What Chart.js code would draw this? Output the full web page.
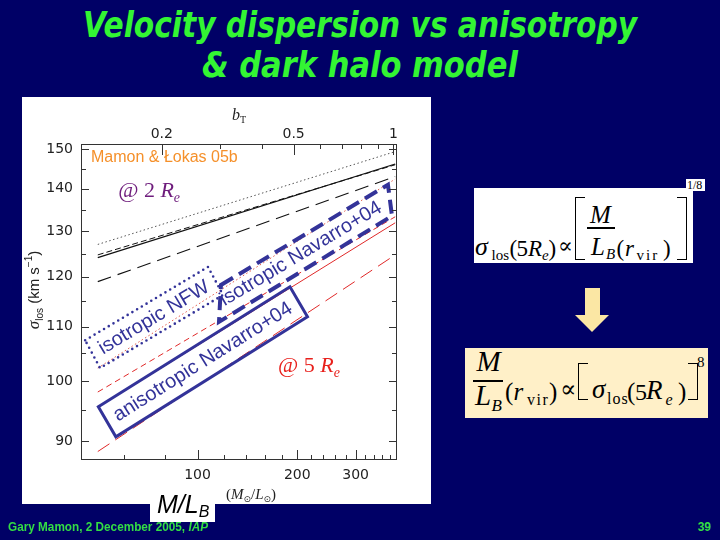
<!DOCTYPE html>
<html>
<head>
<meta charset="utf-8">
<title>Velocity dispersion vs anisotropy</title>
<script src="https://cdn.jsdelivr.net/npm/chart.js@4.4.0/dist/chart.umd.min.js"></script>
<style>
  html, body { margin: 0; padding: 0; }
  body { width: 720px; height: 540px; background: #000066; position: relative; overflow: hidden; font-family: "Liberation Sans", Arial, sans-serif; }
  .title { position: absolute; left: 0; width: 720px; text-align: center; color: #33f533; font-family: "DejaVu Sans Condensed", "DejaVu Sans", sans-serif; font-weight: bold; font-style: italic; font-size: 35px; line-height: 40px; white-space: nowrap; }
  .title span { display: inline-block; transform-origin: center; }
  #t1 { top: 5px; }
  #t2 { top: 45px; }
  #fig { position: absolute; left: 22px; top: 97px; width: 409px; height: 407px; background: #fff; }
  #fig canvas { position: absolute; left: 0; top: 0; }
  #mlb { position: absolute; left: 150px; top: 490px; width: 65px; height: 32px; background: #fff; }
  #mlb span { position: absolute; left: 7px; top: 0px; font-style: italic; font-size: 25px; line-height: 28px; color: #000; }
  #mlb sub { font-size: 16px; vertical-align: -4px; }
  .formula { position: absolute; }
  .formula .pc { position: absolute; white-space: pre; font-family: "Liberation Serif", "DejaVu Serif", serif; color: #000; }
  .formula .rule { position: absolute; background: #000; }
  .formula .br { position: absolute; box-sizing: border-box; border: 1.8px solid #000; }
  #f1 { left: 474px; top: 188px; width: 219px; height: 75px; background: #fff; }
  #f1 .pc.sup { background: #fff; padding: 0 3px 0 1px; margin-left: -1px; }
  #f2 { left: 465px; top: 348px; width: 243px; height: 70px; background: #fff0c8; }
  #arrow { position: absolute; left: 575px; top: 288px; width: 34px; height: 44px; background: #fbe7a4;
           clip-path: polygon(10px 0, 25px 0, 25px 27px, 34px 27px, 17px 44px, 0 27px, 10px 27px); }
  .foot { position: absolute; top: 520px; color: #33dd44; font-family: "Liberation Sans Narrow", "Liberation Sans", sans-serif; font-weight: bold; font-size: 12px; line-height: 14px; white-space: nowrap; }
  #foot { left: 8px; transform-origin: left center; }
  #page { right: 9px; }
</style>
</head>
<body>
<div class="title" id="t1"><span data-w="554">Velocity dispersion vs anisotropy</span></div>
<div class="title" id="t2"><span data-w="316">&amp; dark halo model</span></div>

<div id="fig"><canvas id="chart" width="408" height="406"></canvas></div>
<div id="mlb"><span>M/L<sub>B</sub></span></div>

<div id="f1" class="formula"></div>
<div id="arrow"></div>
<div id="f2" class="formula"></div>

<div class="foot" id="foot">Gary Mamon, 2 December 2005, <i>IAP</i></div>
<div class="foot" id="page">39</div>

<script>
// M/L_B (solar units) at the two ends of every model curve
const ML_RANGE = [50, 395];

// sigma_los (km/s) at 2 R_e, black curves
const SIGMA_2RE_DOTTED = [127.0, 149.4];
const SIGMA_2RE_SHORTDASH = [124.7, 146.0];
const SIGMA_2RE_SOLID = [124.1, 146.2];
const SIGMA_2RE_LONGDASH = [119.0, 143.0];

// sigma_los (km/s) at 5 R_e, red curves
const SIGMA_5RE_DOTTED = [102.3, 142.4];
const SIGMA_5RE_SHORTDASH = [98.1, 133.3];
const SIGMA_5RE_SOLID = [95.5, 131.9];
const SIGMA_5RE_LONGDASH = [88.4, 124.7];

// axes
const X_MIN = 44.5, X_MAX = 400;
const Y_MIN = 87.1, Y_MAX = 151.4;
const BT_SCALE = 390;   // b_T = (M/L) / 390
const ML_TICKS = [60, 80, 100, 120, 140, 160, 180, 200, 220, 240, 260, 280, 300, 320, 340, 360, 380];
const ML_LABELS = [100, 200, 300];
const BT_TICKS = [0.2, 0.3, 0.4, 0.5, 0.6, 0.7, 0.8, 0.9, 1];
const BT_LABELS = [0.2, 0.5, 1];
const SIG_TICKS = [90, 95, 100, 105, 110, 115, 120, 125, 130, 135, 140, 145, 150];
const SIG_LABELS = [90, 100, 110, 120, 130, 140, 150];

const BLUE = '#333399';
const RED = '#e02828';

// annotation boxes, corners in (M/L, sigma)
const boxes = [
  { label: 'isotropic NFW', ml: [45.8, 107.6, 119.4, 50.8], sig: [107.4, 122.1, 116.25, 102.3],
    center: [73.9, 111.7], dash: [0, 5.5], width: 2.6 },
  { label: 'isotropic Navarro+04', ml: [117.7, 375.6, 386.3, 116.1], sig: [118.3, 141.0, 133.5, 110.9],
    center: [205.2, 124.9], dash: [14, 7], width: 4 },
  { label: 'anisotropic Navarro+04', ml: [50.2, 190.1, 214.7, 56.7], sig: [95.6, 117.94, 111.9, 90.7],
    center: [103.8, 103.4], dash: [], width: 3 }
];

const notes = [
  { at: [47.7, 146.7], color: '#f5902a', segs: [{ t: 'Mamon & Łokas 05b', f: '16px "Liberation Sans"' }] },
  { at: [57.6, 138.0], color: '#6e1c7c', segs: [
    { t: '@ 2 ', f: '22px "Liberation Serif"' }, { t: 'R', f: 'italic 22px "Liberation Serif"' },
    { t: 'e', f: 'italic 14px "Liberation Serif"', dy: 5 }] },
  { at: [174.9, 101.6], color: '#e8201c', segs: [
    { t: '@ 5 ', f: '22px "Liberation Serif"' }, { t: 'R', f: 'italic 22px "Liberation Serif"' },
    { t: 'e', f: 'italic 14px "Liberation Serif"', dy: 5 }] }
];

function pts(ys) {
  return ML_RANGE.map((x, i) => ({ x: x, y: ys[i] }));
}

function drawRich(ctx, x, y, segs, align) {
  let w = 0;
  segs.forEach(s => { ctx.font = s.f; w += ctx.measureText(s.t).width; });
  let cx = align === 'center' ? x - w / 2 : x;
  ctx.textAlign = 'left';
  ctx.textBaseline = 'alphabetic';
  segs.forEach(s => {
    ctx.font = s.f;
    ctx.fillText(s.t, cx, y + (s.dy || 0));
    cx += ctx.measureText(s.t).width;
  });
}

function seg(ctx, x1, y1, x2, y2) {
  ctx.beginPath();
  ctx.moveTo(x1, y1);
  ctx.lineTo(x2, y2);
  ctx.stroke();
}

const decorations = {
  id: 'decorations',
  afterDatasetsDraw(chart) {
    const { ctx, chartArea: a, scales } = chart;
    const px = v => scales.x.getPixelForValue(v);
    const py = v => scales.y.getPixelForValue(v);

    // boxes with their labels
    ctx.save();
    ctx.beginPath();
    ctx.rect(a.left, a.top, a.right - a.left, a.bottom - a.top);
    ctx.clip();
    boxes.forEach(b => {
      const xs = b.ml.map(px), ys = b.sig.map(py);
      ctx.strokeStyle = BLUE;
      ctx.lineWidth = b.width;
      ctx.setLineDash(b.dash);
      ctx.lineCap = b.dash.length && b.dash[0] === 0 ? 'round' : 'butt';
      ctx.beginPath();
      ctx.moveTo(xs[0], ys[0]);
      for (let i = 1; i < 4; i++) ctx.lineTo(xs[i], ys[i]);
      ctx.closePath();
      ctx.stroke();
      ctx.setLineDash([]);
      const ang = Math.atan2(ys[1] - ys[0], xs[1] - xs[0]);
      ctx.save();
      ctx.translate(px(b.center[0]), py(b.center[1]));
      ctx.rotate(ang);
      ctx.fillStyle = BLUE;
      ctx.font = '20px "Liberation Sans"';
      ctx.textAlign = 'center';
      ctx.textBaseline = 'middle';
      ctx.fillText(b.label, 0, 0);
      ctx.restore();
    });
    ctx.restore();

    notes.forEach(n => {
      ctx.fillStyle = n.color;
      drawRich(ctx, px(n.at[0]), py(n.at[1]), n.segs, 'left');
    });

    // frame and inward ticks
    ctx.save();
    ctx.strokeStyle = '#333';
    ctx.lineWidth = 1;
    ctx.strokeRect(a.left + 0.5, a.top + 0.5, a.right - a.left - 1, a.bottom - a.top - 1);
    SIG_TICKS.forEach(v => {
      const y = Math.round(py(v)) + 0.5;
      const len = SIG_LABELS.includes(v) ? 8 : 5;
      seg(ctx, a.left, y, a.left + len, y);
      seg(ctx, a.right, y, a.right - len, y);
    });
    ML_TICKS.forEach(v => {
      const x = Math.round(px(v)) + 0.5;
      seg(ctx, x, a.bottom, x, a.bottom - (ML_LABELS.includes(v) ? 10 : 5));
    });
    BT_TICKS.forEach(v => {
      const x = Math.round(scales.x2.getPixelForValue(v)) + 0.5;
      seg(ctx, x, a.top, x, a.top + (BT_LABELS.includes(v) ? 11 : 5));
    });
    ctx.restore();

    // axis titles
    ctx.fillStyle = '#222';
    drawRich(ctx, (a.left + a.right) / 2, a.top - 24, [
      { t: 'b', f: 'italic 16px "Liberation Serif"' },
      { t: 'T', f: '10px "Liberation Serif"', dy: 3 }], 'center');
    drawRich(ctx, (a.left + a.right) / 2 + 12, a.bottom + 39, [
      { t: '(', f: '15px "Liberation Serif"' },
      { t: 'M', f: 'italic 15px "Liberation Serif"' },
      { t: '⊙', f: '9px "DejaVu Sans"', dy: 3 },
      { t: '/', f: '15px "Liberation Serif"' },
      { t: 'L', f: 'italic 15px "Liberation Serif"' },
      { t: '⊙', f: '9px "DejaVu Sans"', dy: 3 },
      { t: ')', f: '15px "Liberation Serif"' }], 'center');
    ctx.save();
    ctx.translate(a.left - 42, (a.top + a.bottom) / 2 - 12);
    ctx.rotate(-Math.PI / 2);
    drawRich(ctx, 0, 0, [
      { t: 'σ', f: 'italic 17px "Liberation Serif"' },
      { t: 'los', f: '10px "Liberation Sans"', dy: 4 },
      { t: ' (km s', f: '15px "Liberation Sans"' },
      { t: '−1', f: '10px "Liberation Sans"', dy: -7 },
      { t: ')', f: '15px "Liberation Sans"' }], 'center');
    ctx.restore();
  }
};

const TICK_FONT = { family: '"DejaVu Sans"', size: 14 };

function logAxis(position, min, max, tickValues, labelValues, size, pad) {
  return {
    type: 'logarithmic',
    position: position,
    min: min,
    max: max,
    bounds: 'data',
    grid: { display: false, drawTicks: false },
    border: { display: false },
    afterBuildTicks: s => { s.ticks = tickValues.map(v => ({ value: v })); },
    afterFit: s => {
      if (position === 'left') s.width = size; else s.height = size;
    },
    ticks: {
      autoSkip: false,
      maxRotation: 0,
      minRotation: 0,
      padding: pad,
      color: '#222',
      font: TICK_FONT,
      callback: v => labelValues.includes(v) ? String(v) : ''
    }
  };
}

new Chart(document.getElementById('chart'), {
  type: 'scatter',
  data: {
    datasets: [
      { data: pts(SIGMA_2RE_DOTTED), borderColor: '#555', borderWidth: 1, borderDash: [1.5, 2.5] },
      { data: pts(SIGMA_2RE_SHORTDASH), borderColor: '#111', borderWidth: 1, borderDash: [6, 3] },
      { data: pts(SIGMA_2RE_SOLID), borderColor: '#111', borderWidth: 1.2, borderDash: [] },
      { data: pts(SIGMA_2RE_LONGDASH), borderColor: '#111', borderWidth: 1.1, borderDash: [14, 7] },
      { data: pts(SIGMA_5RE_DOTTED), borderColor: '#e25a4a', borderWidth: 1, borderDash: [1.5, 2.5] },
      { data: pts(SIGMA_5RE_SHORTDASH), borderColor: RED, borderWidth: 1, borderDash: [6, 4] },
      { data: pts(SIGMA_5RE_SOLID), borderColor: RED, borderWidth: 1, borderDash: [] },
      { data: pts(SIGMA_5RE_LONGDASH), borderColor: RED, borderWidth: 1, borderDash: [14, 7] }
    ].map(d => Object.assign(d, { showLine: true, pointRadius: 0, fill: false, tension: 0 }))
  },
  options: {
    responsive: false,
    animation: false,
    layout: { padding: { left: 0, top: 0, right: 33, bottom: 0 } },
    plugins: { legend: { display: false }, tooltip: { enabled: false }, title: { display: false } },
    scales: {
      x: logAxis('bottom', X_MIN, X_MAX, ML_TICKS, ML_LABELS, 43, 7),
      x2: logAxis('top', X_MIN / BT_SCALE, X_MAX / BT_SCALE, BT_TICKS, BT_LABELS, 47, 1),
      y: logAxis('left', Y_MIN, Y_MAX, SIG_TICKS, SIG_LABELS, 59, 8)
    }
  },
  plugins: [decorations]
});

// typeset formulas: [text, x, baseline, size, italic, letterSpacing, extraClass] in slide pixels
const F1_PARTS = [
  ['σ', 475, 256, 26, 1], ['los', 491.5, 261, 15], ['(', 509.5, 256, 23], ['5', 516.5, 256, 23],
  ['R', 528, 256, 23, 1], ['e', 542, 261, 15, 1], [')', 548.5, 256, 23], ['∝', 558, 253, 22],
  ['M', 590, 223, 25, 1], ['L', 591, 255, 25, 1], ['B', 606, 260, 15, 1],
  ['(', 616.5, 256, 23], ['r', 625, 256, 23, 1], ['vir', 636.5, 261, 15, 0, 2], [')', 663, 256, 23],
  ['1/8', 687, 189, 12, 0, 0, 'sup']
];
const F1_RULES = [[587, 227, 28, 1.5]];
const F1_BRACKETS = [[575, 197, 10, 63, 'l'], [677, 197, 10, 63, 'r']];

const F2_PARTS = [
  ['M', 476.5, 371.5, 29, 1], ['L', 475, 405, 29, 1], ['B', 491.5, 411, 17, 1],
  ['(', 505, 400, 25], ['r', 513.5, 400, 25, 1], ['vir', 527, 405, 16, 0, 1.5], [')', 549, 400, 25],
  ['∝', 560, 397, 24],
  ['σ', 592, 399, 27, 1], ['los', 607, 404, 16, 0, 1], ['(', 627, 400, 25], ['5', 635, 400, 24],
  ['R', 646, 400, 27, 1], ['e', 665.5, 405, 16, 1], [')', 678, 400, 25],
  ['8', 697, 368, 15]
];
const F2_RULES = [[473, 380, 30, 1.5]];
const F2_BRACKETS = [[578, 363, 10, 37, 'l'], [688, 363, 10, 37, 'r']];

function typeset(id, parts, rules, brackets) {
  const box = document.getElementById(id);
  const bx = box.offsetLeft, by = box.offsetTop;
  parts.forEach(p => {
    const s = document.createElement('span');
    s.className = 'pc' + (p[6] ? ' ' + p[6] : '');
    s.textContent = p[0];
    s.style.fontSize = p[3] + 'px';
    s.style.lineHeight = p[3] + 'px';
    s.style.left = (p[1] - bx) + 'px';
    s.style.top = (p[2] - by - 0.8375 * p[3]) + 'px';
    if (p[4]) s.style.fontStyle = 'italic';
    if (p[5]) s.style.letterSpacing = p[5] + 'px';
    box.appendChild(s);
  });
  rules.forEach(r => {
    const d = document.createElement('div');
    d.className = 'rule';
    Object.assign(d.style, { left: (r[0] - bx) + 'px', top: (r[1] - by) + 'px', width: r[2] + 'px', height: r[3] + 'px' });
    box.appendChild(d);
  });
  brackets.forEach(b => {
    const d = document.createElement('div');
    d.className = 'br';
    Object.assign(d.style, { left: (b[0] - bx) + 'px', top: (b[1] - by) + 'px', width: b[2] + 'px', height: b[3] + 'px' });
    d.style[b[4] === 'l' ? 'borderRight' : 'borderLeft'] = 'none';
    box.appendChild(d);
  });
}
typeset('f1', F1_PARTS, F1_RULES, F1_BRACKETS);
typeset('f2', F2_PARTS, F2_RULES, F2_BRACKETS);

// squeeze the title lines and the footer to the widths of the slide
document.querySelectorAll('.title span').forEach(s => {
  const w = s.getBoundingClientRect().width;
  s.style.transform = 'scaleX(' + (Number(s.dataset.w) / w) + ')';
});
const foot = document.getElementById('foot');
foot.style.transform = 'scaleX(' + (200 / foot.getBoundingClientRect().width) + ')';
</script>
</body>
</html>
